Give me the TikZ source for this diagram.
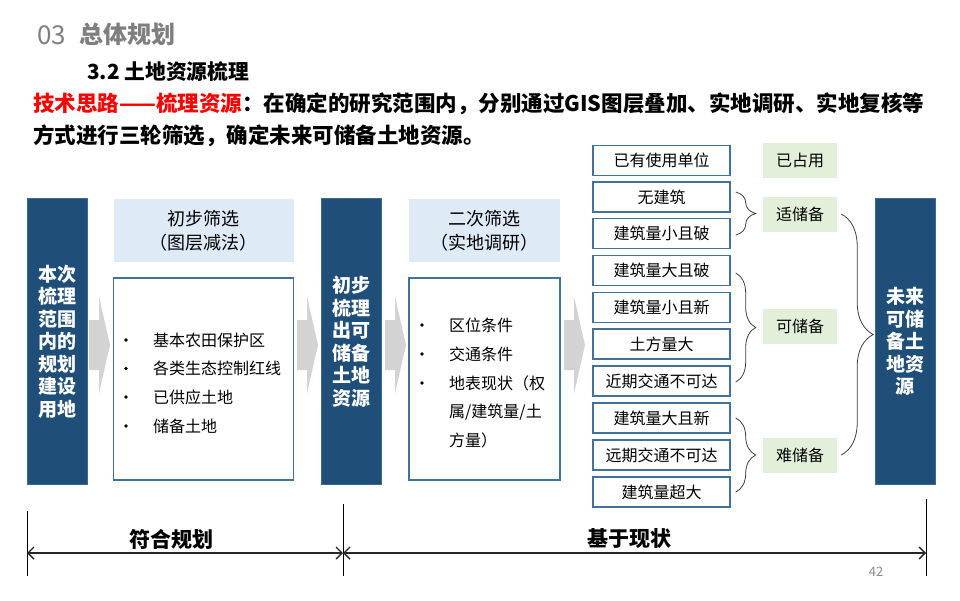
\documentclass[tikz,border=0pt]{standalone}
\usepackage{fontspec}
\setmainfont{Noto Sans CJK SC}
\usetikzlibrary{arrows.meta,decorations.pathreplacing,calc}
\definecolor{dkblue}{HTML}{1F4E79}
\definecolor{ltblue}{HTML}{DEEBF7}
\definecolor{bdblue}{HTML}{41719C}
\definecolor{ltgreen}{HTML}{E2F0D9}
\definecolor{arrowgray}{HTML}{D3D3D3}
\definecolor{titlegray}{HTML}{7F7F7F}
\definecolor{bracegray}{HTML}{404040}
\tikzset{
  darkbox/.style={fill=dkblue, draw=dkblue!85!white, line width=0.8pt, text=white, align=center,
    font=\bfseries\fontsize{19}{22.5}\selectfont, minimum width=60pt, minimum height=286pt, inner sep=0pt},
  hdrbox/.style={fill=ltblue, align=center, font=\fontsize{18}{24}\selectfont,
    minimum height=63pt, inner sep=0pt},
  whitebox/.style={draw=bdblue, line width=1.1pt, fill=white, minimum height=202pt, inner sep=0pt},
  rowbox/.style={draw=bdblue, line width=1.4pt, fill=white, minimum width=137pt, minimum height=30pt,
    inner sep=0pt, font=\fontsize{16}{16}\selectfont},
  greenbox/.style={fill=ltgreen, minimum width=74pt, minimum height=35pt, inner sep=0pt,
    font=\fontsize{16}{16}\selectfont},
  bultxt/.style={anchor=west, inner sep=0pt, font=\fontsize{16}{16}\selectfont},
  bulmark/.style={circle, fill=black, inner sep=0pt, minimum size=3.6pt},
  bracestyle/.style={draw=bracegray, line width=0.8pt, decorate, decoration={brace, amplitude=#1}},
  dimline/.style={line width=1.4pt, draw=black!85, {Straight Barb[length=6pt,width=12pt]}-{Straight Barb[length=6pt,width=12pt]}},
  tickline/.style={line width=0.8pt, draw=black},
  chev/.pic={\fill[arrowgray] (0,-25) -- (10,-25) -- (10,-48.5) -- (21,0) -- (10,48.5) -- (10,25) -- (0,25) -- cycle;}
}
\begin{document}
\begin{tikzpicture}[x=1pt,y=-1pt]
\useasboundingbox[fill=white] (0,0) rectangle (960,600);

% titles
\node[anchor=west, inner sep=0pt, text=titlegray, font=\fontsize{26}{26}\selectfont] (t03) at (37,35) {03};
\node[anchor=west, inner sep=0pt, text=titlegray, font=\bfseries\fontsize{24}{24}\selectfont] (ttl) at (79,34) {总体规划};
\node[anchor=west, inner sep=0pt, font=\bfseries\fontsize{20.8}{21}\selectfont] (sub) at (87,72) {3.2 土地资源梳理};
\node[anchor=west, inner sep=0pt, font=\bfseries\fontsize{21.5}{21.5}\selectfont] (l1) at (33,104)
  {\textcolor{red}{技术思路——梳理资源}：在确定的研究范围内，分别通过GIS图层叠加、实地调研、实地复核等};
\node[anchor=west, inner sep=0pt, font=\bfseries\fontsize{21.5}{21.5}\selectfont] (l2) at (33,136)
  {方式进行三轮筛选，确定未来可储备土地资源。};

% dark boxes
\node[darkbox] (d1) at (57,341.5) {本次\\梳理\\范围\\内的\\规划\\建设\\用地};
\node[darkbox] (d2) at (351,341.5) {初步\\梳理\\出可\\储备\\土地\\资源};
\node[darkbox] (d3) at (905,341.5) {未来\\可储\\备土\\地资\\源};

% headers
\node[hdrbox, minimum width=180pt] (h1) at (203.5,230.5) {初步筛选\\（图层减法）};
\node[hdrbox, minimum width=151pt] (h2) at (484.5,230.5) {二次筛选\\（实地调研）};

% white boxes
\node[whitebox, minimum width=180pt] (w1) at (203.5,379) {};
\node[whitebox, minimum width=151pt] (w2) at (484.5,379) {};

% bullets box 1
\foreach \yy/\tt [count=\i] in {340/基本农田保护区, 368.5/各类生态控制红线, 397/已供应土地, 426/储备土地}{
  \node[bulmark] (b1m\i) at (126,\yy) {};
  \node[bultxt] (b1t\i) at (153,\yy) {\tt};
}
% bullets box 2
\foreach \yy/\tt [count=\i] in {325/区位条件, 354/交通条件, 383/地表现状（权}{
  \node[bulmark] (b2m\i) at (422,\yy) {};
  \node[bultxt] (b2t\i) at (449,\yy) {\tt};
}
\node[bultxt] (b2t4) at (449,412) {属/建筑量/土};
\node[bultxt] (b2t5) at (449,440) {方量）};

% grey arrows
\pic at (89,345) {chev};
\pic at (297,345) {chev};
\pic at (385,345) {chev};
\pic at (564,345) {chev};

% right column rows
\foreach \yy/\tt [count=\i] in {160.5/已有使用单位, 197/无建筑, 233.5/建筑量小且破, 270.5/建筑量大且破,
  307.5/建筑量小且新, 344/土方量大, 381/近期交通不可达, 418/建筑量大且新, 455/远期交通不可达, 492/建筑量超大}{
  \node[rowbox] (r\i) at (661.5,\yy) {\tt};
}

% green labels
\node[greenbox] (g1) at (800,160.5) {已占用};
\node[greenbox] (g2) at (800,214) {适储备};
\node[greenbox] (g3) at (800,326) {可储备};
\node[greenbox] (g4) at (800,455) {难储备};

% braces
\draw[bracestyle=20pt] ($(r2.east)+(5,-5)$) -- ($(r3.east)+(5,1.5)$);
\draw[bracestyle=20pt] ($(r4.east)+(5,2.5)$) -- ($(r7.east)+(5,1)$);
\draw[bracestyle=20pt] ($(r8.east)+(5,0)$) -- ($(r10.east)+(5,0)$);
\draw[bracestyle=32pt] ($(g2.east)+(4,0)$) -- ($(g4.east)+(4,0)$);

% bottom dimension lines
\coordinate (cL) at (27,553);
\coordinate (cM) at (343,553);
\coordinate (cR) at (926,553);
\draw[tickline] (27,511) -- (27,576);
\draw[tickline] (343,504) -- (343,576);
\draw[tickline] (926,499) -- (926,576);
\draw[dimline] (cL) -- (cM);
\draw[dimline] (cM) -- (cR);
\node[inner sep=0pt, font=\bfseries\fontsize{21}{21}\selectfont] (lab1) at (171,539) {符合规划};
\node[inner sep=0pt, font=\bfseries\fontsize{21}{21}\selectfont] (lab2) at (629,539) {基于现状};
\node[inner sep=0pt, text=black!45, font=\fontsize{13}{13}\selectfont] (pg) at (876,572) {42};
\end{tikzpicture}
\end{document}
